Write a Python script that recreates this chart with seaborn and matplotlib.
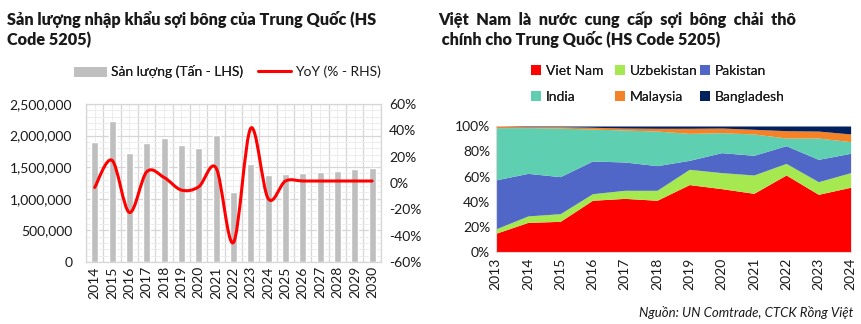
import numpy as np
import pandas as pd
import matplotlib
matplotlib.use("Agg")
import matplotlib.pyplot as plt
import seaborn as sns
from matplotlib.path import Path
from matplotlib.patches import PathPatch, Patch
from matplotlib.lines import Line2D
from matplotlib.ticker import FuncFormatter, MultipleLocator

# ---------------- data ----------------
years_left = ["2014", "2015", "2016", "2017", "2018", "2019", "2020", "2021", "2022",
              "2023", "2024", "2025", "2026", "2027", "2028", "2029", "2030"]
volume = [1905000, 2232000, 1732000, 1879000, 1958000, 1853000, 1800000, 2005000, 1100000,
          1558000, 1374000, 1395000, 1411000, 1426000, 1447000, 1468000, 1489000]
yoy = [-3.4, 17.2, -22.4, 8.5, 4.2, -5.4, -2.9, 11.4, -45.2,
       41.6, -11.8, 1.5, 1.5, 1.5, 1.5, 1.5, 1.5]

years_right = [2013, 2014, 2015, 2016, 2017, 2018, 2019, 2020, 2021, 2022, 2023, 2024]
viet_nam   = [15.0, 23.7, 24.5, 41.2, 42.7, 41.2, 53.6, 50.4, 46.7, 61.2, 45.9, 51.5]
uzbekistan = [3.5, 5.1, 6.1, 5.2, 6.4, 7.9, 12.1, 12.7, 14.5, 9.2, 10.0, 11.6]
pakistan   = [38.8, 33.7, 29.3, 25.9, 22.4, 19.5, 7.1, 15.8, 15.6, 14.0, 17.7, 15.3]
india      = [41.4, 36.2, 38.5, 25.3, 25.3, 27.4, 21.4, 15.8, 16.9, 6.1, 16.9, 9.2]
malaysia   = [1.3, 0.8, 1.1, 1.4, 1.6, 2.2, 4.0, 3.7, 3.7, 5.8, 5.5, 6.1]
bangladesh = [0.0, 0.5, 0.5, 1.0, 1.6, 1.8, 1.8, 1.6, 2.6, 3.7, 4.0, 6.3]
right_labels = ["Viet Nam", "Uzbekistan", "Pakistan", "India", "Malaysia", "Bangladesh"]

# ---------------- style ----------------
sns.set_theme(style="white")
plt.rcParams["font.family"] = ["Lato", "DejaVu Sans"]
TXT = "#1a1a1a"
FS = 10

fig = plt.figure(figsize=(8.62, 3.24), dpi=100)

# ---------------- left chart ----------------
axL = fig.add_axes([0.0998, 0.1914, 0.342, 0.4877])
df_left = pd.DataFrame({"year": years_left, "volume": volume, "yoy": yoy})
sns.barplot(data=df_left, x="year", y="volume", color="#bfbfbf", width=0.4,
            saturation=1, ax=axL, zorder=3)
axL.set_ylim(0, 2500000)
axL.set_xlim(-0.5, len(years_left) - 0.5)
axL.yaxis.set_major_locator(MultipleLocator(500000))
axL.yaxis.set_minor_locator(MultipleLocator(100000))
axL.yaxis.set_major_formatter(FuncFormatter(lambda v, p: f"{int(v):,}"))
axL.set_xticks(np.arange(-0.5, len(years_left), 1.0), minor=True)
axL.grid(True, which="major", axis="y", color="#d6d6d6", lw=0.9, zorder=0)
axL.grid(True, which="minor", axis="y", color="#ececec", lw=0.7, zorder=0)
axL.grid(True, which="minor", axis="x", color="#d6d6d6", lw=0.9, zorder=0)
axL.grid(True, which="major", axis="x", color="#ececec", lw=0.7, zorder=0)
axL.set_axisbelow(True)
for s in axL.spines.values():
    s.set_color("#d6d6d6")
    s.set_linewidth(0.9)
axL.set_xlabel("")
axL.set_ylabel("")
axL.tick_params(axis="x", which="both", length=0, labelsize=FS, labelcolor=TXT, rotation=90, pad=3)
axL.tick_params(axis="y", which="both", length=0, labelsize=FS, labelcolor=TXT, pad=10)

axR2 = axL.twinx()
axR2.set_ylim(-60, 60)
axR2.yaxis.set_major_locator(MultipleLocator(20))
axR2.yaxis.set_major_formatter(FuncFormatter(lambda v, p: f"{int(round(v))}%"))
axR2.tick_params(axis="y", length=0, labelsize=FS, labelcolor=TXT, pad=6)
for s in axR2.spines.values():
    s.set_visible(False)
axR2.grid(False)

# smooth (Catmull-Rom -> Bezier) line through the YoY points
xs = np.arange(len(yoy), dtype=float)
ys = np.array(yoy, dtype=float)
verts = [(xs[0], ys[0])]
codes = [Path.MOVETO]
n = len(xs)
for i in range(n - 1):
    p0 = np.array([xs[max(i - 1, 0)], ys[max(i - 1, 0)]])
    p1 = np.array([xs[i], ys[i]])
    p2 = np.array([xs[i + 1], ys[i + 1]])
    p3 = np.array([xs[min(i + 2, n - 1)], ys[min(i + 2, n - 1)]])
    c1 = p1 + (p2 - p0) / 6.0
    c2 = p2 - (p3 - p1) / 6.0
    verts += [tuple(c1), tuple(c2), tuple(p2)]
    codes += [Path.CURVE4] * 3
axR2.add_patch(PathPatch(Path(verts, codes), facecolor="none", edgecolor="#ff0000",
                         lw=2.2, zorder=5, capstyle="round", joinstyle="round"))

# left titles & legend
fig.text(0.008, 0.965, "Sản lượng nhập khẩu sợi bông của Trung Quốc (HS\nCode 5205)",
         ha="left", va="top", fontsize=11.7, fontweight=800, color=TXT, linespacing=1.25)
leg1 = fig.legend([Patch(facecolor="#bfbfbf", edgecolor="none")], ["Sản lượng (Tấn - LHS)"],
                  loc="center left", bbox_to_anchor=(74 / 862, 1 - 72 / 324), frameon=False,
                  fontsize=FS, handlelength=2.4, handleheight=0.75, handletextpad=0.3,
                  borderpad=0, borderaxespad=0, labelcolor=TXT)
leg2 = fig.legend([Line2D([0], [0], color="#ff0000", lw=2.2)], ["YoY (% - RHS)"],
                  loc="center left", bbox_to_anchor=(258 / 862, 1 - 72 / 324), frameon=False,
                  fontsize=FS, handlelength=2.4, handletextpad=0.3,
                  borderpad=0, borderaxespad=0, labelcolor=TXT)
fig.add_artist(leg1)

# ---------------- right chart ----------------
axB = fig.add_axes([0.575, 0.2213, 0.4118, 0.3898])
colors = ["#ff0000", "#a6e84f", "#5067c8", "#5fcfb1", "#f58226", "#00215e"]
series = [viet_nam, uzbekistan, pakistan, india, malaysia, bangladesh]
arr = np.array(series, dtype=float)
arr = arr / arr.sum(axis=0) * 100.0
axB.stackplot(years_right, arr, colors=colors, labels=right_labels, lw=0)
axB.set_xlim(years_right[0], years_right[-1])
axB.set_ylim(0, 100)
axB.set_xticks(years_right)
axB.set_xticklabels([str(y) for y in years_right])
axB.yaxis.set_major_locator(MultipleLocator(20))
axB.yaxis.set_major_formatter(FuncFormatter(lambda v, p: f"{int(round(v))}%"))
for k, s in axB.spines.items():
    if k in ("left", "bottom"):
        s.set_color("#d9d9d9")
        s.set_linewidth(0.8)
    else:
        s.set_visible(False)
axB.grid(False)
axB.tick_params(axis="x", length=0, labelsize=FS, labelcolor=TXT, rotation=90, pad=4)
axB.tick_params(axis="y", length=0, labelsize=FS, labelcolor=TXT, pad=4)

fig.text(0.508, 0.965, "Việt  Nam  là  nước  cung  cấp  sợi  bông  chải  thô\n chính cho Trung Quốc (HS Code 5205)",
         ha="left", va="top", fontsize=11.7, fontweight=800, color=TXT, linespacing=1.25)

col_x = [531, 615, 700]
for j, cx in enumerate(col_x):
    idx = [j, j + 3]
    lg = fig.legend([Patch(facecolor=colors[i], edgecolor="none") for i in idx],
                    [right_labels[i] for i in idx], loc="center left",
                    bbox_to_anchor=(cx / 862, 1 - 84 / 324), frameon=False, fontsize=FS,
                    handlelength=0.7, handleheight=0.7, handletextpad=0.35,
                    labelspacing=1.0, borderpad=0, borderaxespad=0, labelcolor=TXT)
    fig.add_artist(lg)

fig.text(0.99, 0.015, "Nguồn: UN Comtrade, CTCK Rồng Việt", ha="right", va="bottom",
         fontsize=9.5, style="italic", color=TXT)

fig.savefig("out.png", dpi=100)
